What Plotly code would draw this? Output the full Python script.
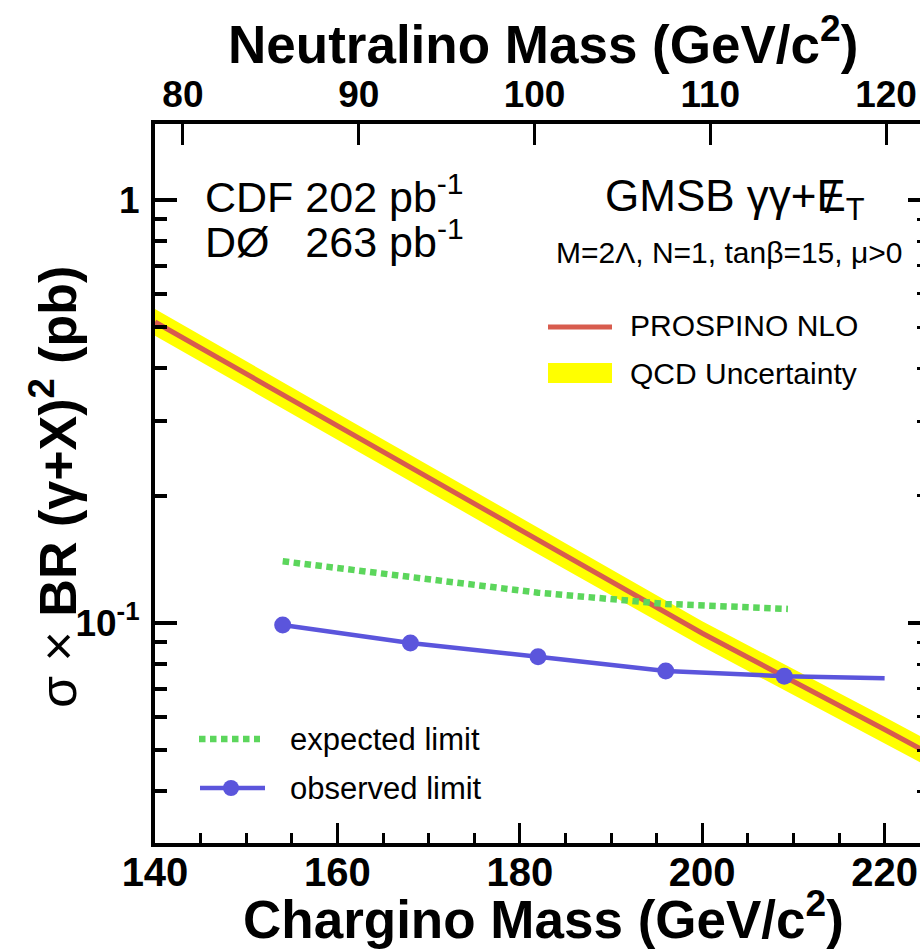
import plotly.graph_objects as go

# ---------------- data ----------------
chargino_theory = [140, 160, 180, 200, 220, 225]
xsec_nlo = [0.515, 0.292, 0.166, 0.0946, 0.056, 0.049]
xsec_up = [0.553, 0.313, 0.178, 0.101, 0.060, 0.0525]
xsec_down = [0.478, 0.271, 0.154, 0.088, 0.052, 0.0455]

chargino_expected = [154, 168, 182, 196, 209.4]
limit_expected = [0.140, 0.129, 0.118, 0.111, 0.108]

chargino_observed = [154, 168, 182, 196, 209, 220]
limit_observed = [0.0989, 0.0897, 0.0832, 0.0770, 0.0749, 0.0741]
observed_marker = [17, 17, 17, 17, 17, 0]

x_ticks = [140, 160, 180, 200, 220]
n_ticks = [80, 90, 100, 110, 120]
y_ticks = [0.1, 1]
y_ticktext = ["10<sup>-1</sup>", "1"]
y_minor = [0.04, 0.05, 0.06, 0.07, 0.08, 0.09, 0.2, 0.3, 0.4, 0.5, 0.6, 0.7, 0.8, 0.9]

x_range = [140, 223.88]
n_range = [78.41, 121.93]
y_range = [-1.52, 0.18]

# ---------------- style ----------------
RED = "#d85c4e"
YEL = "#ffff00"
GRN = "#5cd65c"
BLU = "#5b55dc"
FONT = "Liberation Sans, Arial, Helvetica, sans-serif"

W, H = 920, 952
L, R, T, B = 155, 920, 124, 843


def px(x):
    return (x - L) / (R - L)


def py(y):
    return (B - y) / (B - T)


fig = go.Figure()

fig.add_trace(go.Scatter(x=chargino_theory, y=xsec_up, mode="lines",
                         line=dict(width=0, color=YEL), showlegend=False, hoverinfo="skip"))
fig.add_trace(go.Scatter(x=chargino_theory, y=xsec_down, mode="lines",
                         line=dict(width=0, color=YEL), fill="tonexty", fillcolor=YEL,
                         showlegend=False, hoverinfo="skip"))
fig.add_trace(go.Scatter(x=chargino_theory, y=xsec_nlo, mode="lines",
                         line=dict(width=5, color=RED), showlegend=False))
fig.add_trace(go.Scatter(x=chargino_expected, y=limit_expected, mode="lines",
                         line=dict(width=6.5, color=GRN, dash="6.5px,4.5px"), showlegend=False))
fig.add_trace(go.Scatter(x=chargino_observed, y=limit_observed, mode="lines+markers",
                         line=dict(width=4.5, color=BLU),
                         marker=dict(size=observed_marker, color=BLU, opacity=1,
                                     line=dict(width=0)),
                         showlegend=False))
# helper traces so that the secondary axes are drawn
fig.add_trace(go.Scatter(x=n_ticks, y=[None] * len(n_ticks), xaxis="x2", yaxis="y",
                         showlegend=False, hoverinfo="skip"))
fig.add_trace(go.Scatter(x=x_ticks, y=[None] * len(x_ticks), xaxis="x", yaxis="y2",
                         showlegend=False, hoverinfo="skip"))

fig.update_layout(
    width=W, height=H,
    margin=dict(l=L, r=W - R, t=T, b=H - B, autoexpand=False),
    paper_bgcolor="white", plot_bgcolor="white",
    showlegend=False,
    xaxis=dict(range=x_range, tickvals=x_ticks, ticks="inside", ticklen=20, tickwidth=3,
               tickcolor="black", showline=True, linewidth=4, linecolor="black",
               showgrid=False, zeroline=False, ticklabelstandoff=-9,
               tickfont=dict(family=FONT, size=40, color="black", weight="bold"),
               minor=dict(dtick=5, tick0=140, ticks="inside", ticklen=10, tickwidth=3,
                          tickcolor="black", showgrid=False)),
    xaxis2=dict(range=n_range, tickvals=n_ticks, overlaying="x", side="top", anchor="y",
                ticks="inside", ticklen=21, tickwidth=3, tickcolor="black",
                showline=True, linewidth=4, linecolor="black", showgrid=False, zeroline=False,
                tickfont=dict(family=FONT, size=37, color="black", weight="bold"),
                ticklabelstandoff=-2),
    yaxis=dict(type="log", range=y_range, tickvals=y_ticks, ticktext=y_ticktext,
               ticks="inside", ticklen=22, tickwidth=4, tickcolor="black",
               showline=True, linewidth=4, linecolor="black", showgrid=False, zeroline=False,
               tickfont=dict(family=FONT, size=37, color="black", weight="bold"),
               ticklabelstandoff=4,
               minor=dict(tickvals=y_minor, ticks="inside", ticklen=12, tickwidth=4,
                          tickcolor="black", showgrid=False)),
    yaxis2=dict(type="log", range=y_range, tickvals=y_ticks, overlaying="y", side="right",
                anchor="x", ticks="inside", ticklen=12, tickwidth=4, tickcolor="black",
                showline=False, showgrid=False, zeroline=False, showticklabels=False,
                minor=dict(tickvals=y_minor, ticks="inside", ticklen=3, tickwidth=3,
                           tickcolor="black", showgrid=False)),
)

ann = []


def text(x, y, s, size, anchor="left", weight="normal", angle=0):
    ann.append(dict(x=px(x), y=py(y), xref="paper", yref="paper", text=s, showarrow=False,
                    xanchor=anchor, yanchor="middle", textangle=angle,
                    font=dict(family=FONT, size=size, color="black", weight=weight)))


# axis titles
text(543, 40, "Neutralino Mass (GeV/c<sup>2</sup>)", 53, "center", "bold")
text(543, 915, "Chargino Mass (GeV/c<sup>2</sup>)", 53, "center", "bold")
text(54, 487, "σ × <b>BR (γ+X)<sup>2</sup> (pb)</b>", 52, "center", "normal", -90)

# luminosity labels
text(203, 194, "CDF 202 pb<sup>-1</sup>", 43)
text(203, 239, "DØ\u00a0\u00a0\u00a0263 pb<sup>-1</sup>", 43)

# model labels
text(603, 199, "GMSB γγ+E<sub>T</sub>", 44)
text(831, 197, "/", 44, "center")
text(729, 253, "M=2Λ, N=1, tanβ=15, μ>0", 30, "center")

# legend texts
text(628, 325, "PROSPINO NLO", 30)
text(628, 373, "QCD Uncertainty", 30)
text(288, 739, "expected limit", 31)
text(288, 788, "observed limit", 31)
fig.update_layout(annotations=ann)

# legend keys
shapes = [
    dict(type="line", xref="paper", yref="paper", x0=px(548), x1=px(612), y0=py(327), y1=py(327),
         line=dict(color=RED, width=5)),
    dict(type="rect", xref="paper", yref="paper", x0=px(548), x1=px(612), y0=py(363), y1=py(383),
         line=dict(width=0), fillcolor=YEL),
    dict(type="line", xref="paper", yref="paper", x0=px(199), x1=px(260), y0=py(739), y1=py(739),
         line=dict(color=GRN, width=6.5, dash="6.5px,4.5px")),
    dict(type="line", xref="paper", yref="paper", x0=px(200), x1=px(265), y0=py(788), y1=py(788),
         line=dict(color=BLU, width=4.5)),
    dict(type="circle", xref="paper", yref="paper", x0=px(223), x1=px(239), y0=py(780), y1=py(796),
         line=dict(width=0), fillcolor=BLU),
]
fig.update_layout(shapes=shapes)

fig.write_html("out.html", config={"displayModeBar": False},
               post_script="document.body.style.margin='0';document.body.style.overflow='hidden';")
